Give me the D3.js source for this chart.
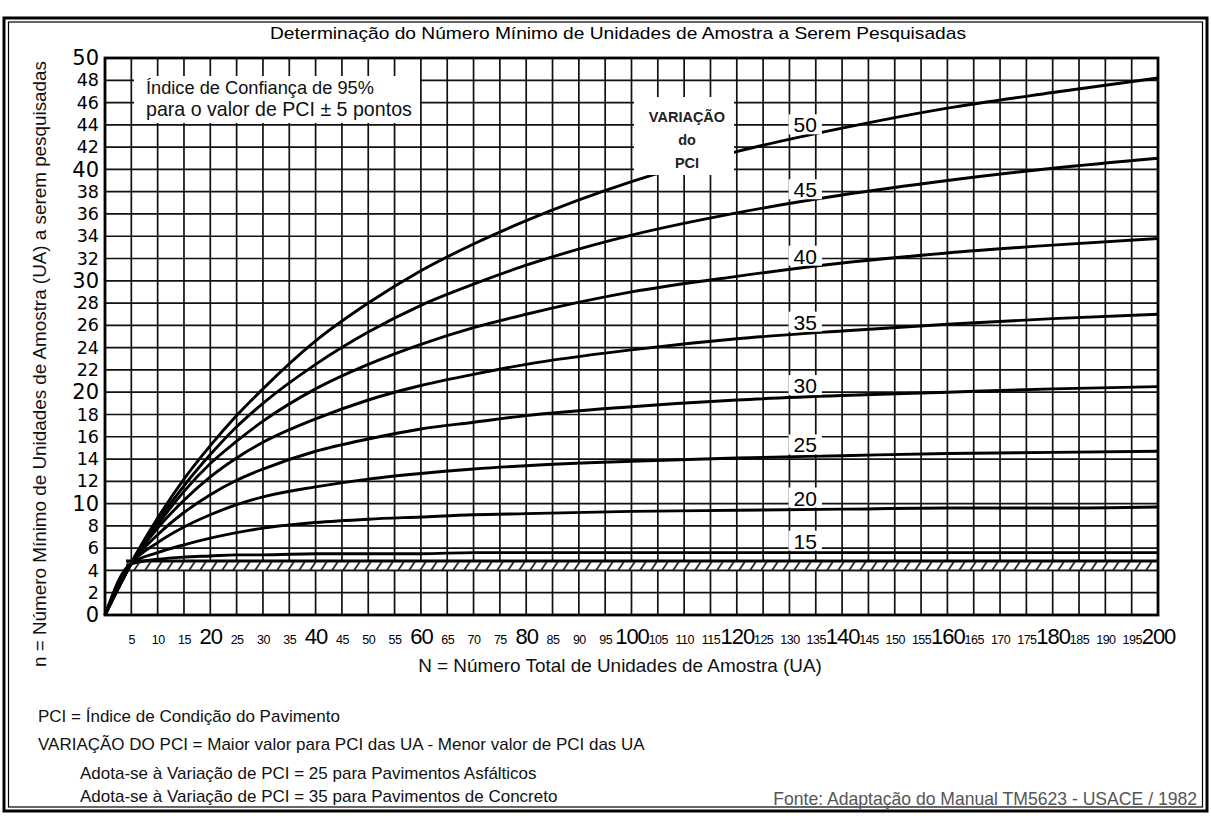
<!DOCTYPE html>
<html><head><meta charset="utf-8">
<script src="https://cdn.jsdelivr.net/npm/d3@7"></script>
<style>body{margin:0;background:#fff}svg{display:block}</style>
</head><body>
<svg id="c" width="1211" height="816"></svg>
<script>
// ---------------- DATA ----------------
const sampleN = [0,5,10,15,20,25,30,40,50,60,70,80,100,120,140,160,180,200];
const variations = [50,45,40,35,30,25,20,15];
const n50 = [0,4.7,8.7,12.2,15.2,17.9,20.3,24.6,28.0,30.9,33.3,35.4,38.9,41.6,43.7,45.5,46.9,48.2];
const n45 = [0,4.6,8.4,11.6,14.4,16.9,19.0,22.5,25.4,27.8,29.7,31.4,34.1,36.1,37.7,39.0,40.1,41.0];
const n40 = [0,4.6,8.1,11.1,13.6,15.6,17.4,20.3,22.5,24.3,25.8,27.0,29.0,30.4,31.6,32.5,33.2,33.8];
const n35 = [0,4.6,7.8,10.3,12.4,14.1,15.5,17.6,19.3,20.6,21.6,22.5,23.8,24.8,25.5,26.1,26.6,27.0];
const n30 = [0,4.6,7.2,9.2,10.8,12.1,13.1,14.7,15.8,16.7,17.3,17.9,18.7,19.3,19.7,20.0,20.3,20.5];
const n25 = [0,4.6,6.5,7.9,9.0,9.9,10.6,11.5,12.2,12.7,13.1,13.4,13.8,14.1,14.3,14.5,14.6,14.7];
const n20 = [0,4.6,5.6,6.3,6.9,7.4,7.8,8.3,8.6,8.8,9.0,9.1,9.3,9.4,9.5,9.6,9.6,9.7];
const n15 = [0,4.6,5.0,5.2,5.3,5.4,5.4,5.5,5.5,5.5,5.6,5.6,5.6,5.6,5.6,5.6,5.6,5.6];
const seriesValues = [n50,n45,n40,n35,n30,n25,n20,n15];
// minimum line and hatched band
const minLineN = [4,200];
const minLineValue = 4.85;
const hatchN = [4,200];
const hatchRange = [4.0,4.8];
// ticks
const yTicks = d3.range(0,51,2);
const yMajor = [0,10,20,30,40,50];
const xTicks = d3.range(5,201,5);
const xMajor = [20,40,60,80,100,120,140,160,180,200];
// texts
const titleText = "Determinação do Número Mínimo de Unidades de Amostra a Serem Pesquisadas";
const yTitle = "n = Número Mínimo de Unidades de Amostra (UA) a serem pesquisadas";
const xTitle = "N = Número Total de Unidades de Amostra (UA)";
const boxLines = ["Índice de Confiança de 95%","para o valor de PCI ± 5 pontos"];
const varLines = ["VARIAÇÃO","do","PCI"];
const notes = ["PCI = Índice de Condição do Pavimento",
  "VARIAÇÃO DO PCI = Maior valor para PCI das UA - Menor valor de PCI das UA",
  "Adota-se à Variação de PCI = 25 para Pavimentos Asfálticos",
  "Adota-se à Variação de PCI = 35 para Pavimentos de Concreto"];
const sourceText = "Fonte: Adaptação do Manual TM5623 - USACE / 1982";

// ---------------- DRAW ----------------
const svg = d3.select("#c");
const FONT = "'Liberation Sans', Arial, sans-serif";
const NUM = "'DejaVu Sans', 'Liberation Sans', sans-serif";
function fit(sel, w){
  const len = sel.node().getComputedTextLength();
  const fs = parseFloat(sel.attr("font-size"));
  sel.attr("font-size", (fs*w/len).toFixed(2));
  return sel;
}
svg.append("rect").attr("width",1211).attr("height",816).attr("fill","#fff");

const L=105, R=1158, T=58, B=615;
const x = d3.scaleLinear().domain([0,200]).range([L,R]);
const y = d3.scaleLinear().domain([0,50]).range([B,T]);

// frame
svg.append("rect").attr("x",4).attr("y",18).attr("width",1203).attr("height",793)
  .attr("fill","none").attr("stroke","#000").attr("stroke-width",3);
svg.append("rect").attr("x",8.5).attr("y",22).attr("width",1194).attr("height",785)
  .attr("fill","none").attr("stroke","#000").attr("stroke-width",1.2);

// title (condensed)
svg.append("text").attr("x",270).attr("y",39)
  .attr("font-family",FONT).attr("font-size",17).attr("fill","#000")
  .attr("textLength",696).attr("lengthAdjust","spacingAndGlyphs").text(titleText);

// grid
const grid = svg.append("g").attr("stroke","#111").attr("stroke-width",1.7);
grid.selectAll("line.v").data(xTicks.filter(d=>d<200)).join("line").attr("class","v")
  .attr("x1",d=>x(d)).attr("x2",d=>x(d)).attr("y1",T).attr("y2",B);
grid.selectAll("line.h").data(yTicks.filter(d=>d>0&&d<50)).join("line").attr("class","h")
  .attr("x1",L).attr("x2",R).attr("y1",d=>y(d)).attr("y2",d=>y(d));

// hatch pattern
const defs = svg.append("defs");
const bandH = y(hatchRange[0])-y(hatchRange[1]);
const pat = defs.append("pattern").attr("id","hatch").attr("patternUnits","userSpaceOnUse")
  .attr("width",11).attr("height",bandH).attr("y",y(hatchRange[1]));
pat.append("rect").attr("width",11).attr("height",bandH).attr("fill","#fff");
pat.append("line").attr("x1",2).attr("y1",bandH).attr("x2",8).attr("y2",0)
  .attr("stroke","#111").attr("stroke-width",1.6);
svg.append("rect").attr("x",x(hatchN[0])).attr("width",x(hatchN[1])-x(hatchN[0]))
  .attr("y",y(hatchRange[1])).attr("height",bandH).attr("fill","url(#hatch)");
svg.append("line").attr("x1",x(hatchN[0])).attr("x2",x(hatchN[1]))
  .attr("y1",y(hatchRange[0])).attr("y2",y(hatchRange[0])).attr("stroke","#111").attr("stroke-width",1.7);
svg.append("line").attr("x1",x(minLineN[0])).attr("x2",x(minLineN[1]))
  .attr("y1",y(minLineValue)).attr("y2",y(minLineValue)).attr("stroke","#000").attr("stroke-width",3);

// curve labels
const LABEL_N = 133;
function valueAt(vals, n){
  const i = d3.bisectLeft(sampleN, n);
  const t = (n - sampleN[i-1])/(sampleN[i]-sampleN[i-1]);
  return vals[i-1] + t*(vals[i]-vals[i-1]);
}
const labelG = svg.append("g");
const labelTexts = labelG.selectAll("text").data(variations).join("text")
  .attr("x",x(LABEL_N)).attr("y",(d,i)=>y(valueAt(seriesValues[i],LABEL_N))-4)
  .attr("text-anchor","middle").attr("font-family",FONT).attr("font-size",21)
  .attr("fill","#000").text(d=>d);
labelTexts.each(function(){
  const b = this.getBBox();
  labelG.insert("rect","text").attr("x",b.x-5).attr("y",b.y+1).attr("width",b.width+10)
    .attr("height",b.height-3).attr("fill","#fff");
});

// curves
const line = d3.line().x(d=>x(d[0])).y(d=>y(d[1])).curve(d3.curveMonotoneX);
svg.append("g").selectAll("path").data(seriesValues).join("path")
  .attr("d",vals=>line(sampleN.map((n,i)=>[n,vals[i]])))
  .attr("fill","none").attr("stroke","#000").attr("stroke-width",2.9)
  .attr("stroke-linejoin","round");
labelG.raise();

// plot border
svg.append("rect").attr("x",L).attr("y",T).attr("width",R-L).attr("height",B-T)
  .attr("fill","none").attr("stroke","#000").attr("stroke-width",2.8);

// axes
const ya = svg.append("g").attr("transform",`translate(${L},0)`)
  .call(d3.axisLeft(y).tickValues(yTicks).tickSize(0).tickPadding(6));
ya.select(".domain").remove();
ya.selectAll("text").attr("font-family",NUM).attr("fill","#000")
  .attr("font-size",d=>yMajor.includes(d)?21:17.5);
const xa = svg.append("g").attr("transform",`translate(0,${B})`)
  .call(d3.axisBottom(x).tickValues(xTicks).tickSize(0).tickPadding(0));
xa.select(".domain").remove();
xa.selectAll("text").attr("font-family",FONT).attr("fill","#000").attr("dy",null)
  .attr("y",29).attr("font-size",d=>xMajor.includes(d)?22:12.5)
  .style("letter-spacing",d=>xMajor.includes(d)?"-1px":"-0.5px");

// axis titles
fit(svg.append("text").attr("transform","translate(46,364) rotate(-90)")
  .attr("text-anchor","middle").attr("font-family",FONT).attr("font-size",16)
  .attr("fill","#111").text(yTitle), 606);
fit(svg.append("text").attr("x",620).attr("y",672).attr("text-anchor","middle")
  .attr("font-family",FONT).attr("font-size",15).attr("fill","#111").text(xTitle), 404);

// confidence box
svg.append("rect").attr("x",134).attr("y",76).attr("width",286).attr("height",47).attr("fill","#fff");
svg.append("g").selectAll("text").data(boxLines).join("text")
  .attr("x",146).attr("y",(d,i)=>94+i*22).attr("font-family",FONT).attr("font-size",15.5)
  .attr("fill","#111").text(d=>d)
  .each(function(d,i){ fit(d3.select(this), i===0?228:266); });

// variation box
svg.append("rect").attr("x",634).attr("y",97).attr("width",100).attr("height",78).attr("fill","#fff");
svg.append("g").selectAll("text").data(varLines).join("text")
  .attr("x",687).attr("y",(d,i)=>122+i*23).attr("text-anchor","middle")
  .attr("font-family",FONT).attr("font-weight","bold").attr("font-size",14.5)
  .attr("fill","#222").text(d=>d);

// notes
const noteX = [38,38,80,80], noteY=[722,750,779,802];
svg.append("g").selectAll("text").data(notes).join("text")
  .attr("x",(d,i)=>noteX[i]).attr("y",(d,i)=>noteY[i]).attr("font-family",FONT)
  .attr("font-size",17).attr("fill","#111").text(d=>d);
fit(svg.append("text").attr("x",1197).attr("y",805).attr("text-anchor","end")
  .attr("font-family",FONT).attr("font-size",14).attr("fill","#555").text(sourceText), 424);
</script>
</body></html>
